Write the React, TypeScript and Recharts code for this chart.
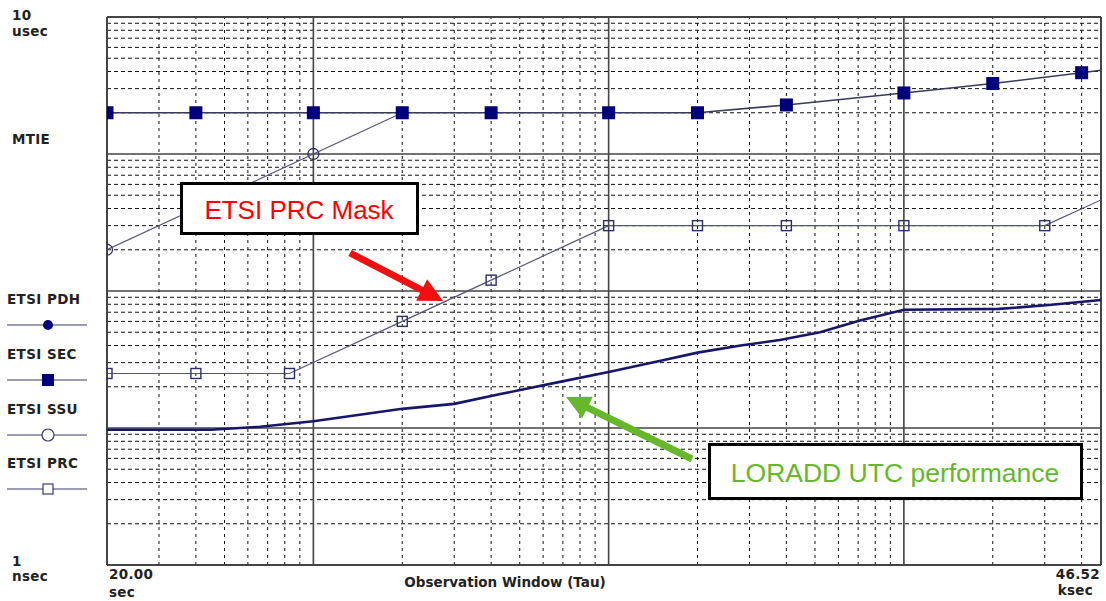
import { Line, LineChart, ReferenceLine, XAxis, YAxis } from 'recharts';

// observation window tau (s) and MTIE (ns)
const secTau = [20, 40, 100, 200, 400, 1000, 2000, 4000, 10000, 20000, 40000, 46520];
const secNs = [2000, 2000, 2000, 2000, 2000, 2000, 2000, 2280, 2790, 3270, 3920, 4090];

const ssuTau = [20, 100, 200];
const ssuNs = [200, 1000, 2000];

const prcTau = [20, 40, 83, 200, 400, 1000, 2000, 4000, 10000, 30000, 46520];
const prcNs = [25, 25, 25, 60, 120, 300, 300, 300, 300, 300, 462];

const loraddTau = [20, 45, 66, 100, 200, 300, 430, 690, 1000, 1500, 2000, 2800, 3800, 5200, 7100, 10000, 21000, 31000, 46520];
const loraddNs = [9.7, 9.7, 10.2, 11.2, 13.8, 15.0, 17.7, 21.8, 25.6, 31.0, 35.5, 40.0, 43.9, 50.0, 61.0, 73.0, 74.0, 79.0, 86.0];

const majorX = [100, 1000, 10000];
const minorX = [30, 40, 50, 60, 70, 80, 90, 200, 300, 400, 500, 600, 700, 800, 900, 2000, 3000, 4000, 5000, 6000, 7000, 8000, 9000, 20000, 30000, 40000];
const majorY = [10, 100, 1000];
const minorY = [2, 3, 4, 5, 6, 7, 8, 9, 20, 30, 40, 50, 60, 70, 80, 90, 200, 300, 400, 500, 600, 700, 800, 900, 2000, 3000, 4000, 5000, 6000, 7000, 8000, 9000];

const TAU_MAX = 46520;
const NAVY = '#00007a';
const FONT = '"DejaVu Sans", Verdana, sans-serif';
const ARIAL = '"Liberation Sans", Arial, sans-serif';

const zip = (t: number[], v: number[]) => t.map((tau, i) => ({ tau, v: v[i] }));
const secData = zip(secTau, secNs);
const ssuData = zip(ssuTau, ssuNs);
const prcData = zip(prcTau, prcNs);
const loraddData = zip(loraddTau, loraddNs);

type DotProps = { cx?: number; cy?: number; payload?: { tau: number }; index?: number };

// the edge point only carries the line to the frame, no marker there
function FilledSquare({ cx = 0, cy = 0, payload, index }: DotProps) {
  if (payload?.tau === TAU_MAX) return <g key={index} />;
  return <rect key={index} x={cx - 6.5} y={cy - 6.5} width={13} height={13} fill={NAVY} />;
}

function OpenSquare({ cx = 0, cy = 0, payload, index }: DotProps) {
  if (payload?.tau === TAU_MAX) return <g key={index} />;
  return <rect key={index} x={cx - 5} y={cy - 5} width={10} height={10} fill="none" stroke="#2e2e66" strokeWidth={1.4} />;
}

function OpenCircle({ cx = 0, cy = 0, index }: DotProps) {
  return <circle key={index} cx={cx} cy={cy} r={5.5} fill="none" stroke="#2e2e66" strokeWidth={1.3} />;
}

function Arrow({ x1, y1, x2, y2, color }: { x1: number; y1: number; x2: number; y2: number; color: string }) {
  const dx = x2 - x1;
  const dy = y2 - y1;
  const len = Math.hypot(dx, dy);
  const ux = dx / len;
  const uy = dy / len;
  const nx = -uy;
  const ny = ux;
  const head = 24;
  const hw = 12;
  const sw = 3.5;
  const bx = x2 - ux * head;
  const by = y2 - uy * head;
  const pts = [
    [x1 + nx * sw, y1 + ny * sw],
    [bx + nx * sw, by + ny * sw],
    [bx + nx * hw, by + ny * hw],
    [x2, y2],
    [bx - nx * hw, by - ny * hw],
    [bx - nx * sw, by - ny * sw],
    [x1 - nx * sw, y1 - ny * sw],
  ];
  return <polygon points={pts.map((p) => p.join(',')).join(' ')} fill={color} />;
}

function LegendRow({ y, label, marker }: { y: number; label: string; marker: 'dot' | 'fsq' | 'circle' | 'osq' }) {
  const ly = y + 21;
  return (
    <g>
      <text x={7} y={y} fontSize={13.5} fontWeight={700} letterSpacing={0.4} fill="#222">{label}</text>
      <line x1={7} y1={ly} x2={87} y2={ly} stroke="#3a3a6a" strokeWidth={1.2} />
      {marker === 'dot' && <circle cx={48} cy={ly} r={5} fill={NAVY} />}
      {marker === 'fsq' && <rect x={42} y={ly - 6} width={12} height={12} fill={NAVY} />}
      {marker === 'circle' && <circle cx={48} cy={ly} r={6} fill="#fff" stroke="#3a3a6a" strokeWidth={1.2} />}
      {marker === 'osq' && <rect x={43} y={ly - 5} width={10} height={10} fill="#fff" stroke="#3a3a6a" strokeWidth={1.2} />}
    </g>
  );
}

export default function App() {
  return (
    <div style={{ position: 'absolute', left: 0, top: 0, width: 1106, height: 601, background: '#fff', fontFamily: FONT }}>
      <LineChart width={1106} height={601} margin={{ top: 17, right: 5, bottom: 36, left: 107 }}>
        <XAxis type="number" dataKey="tau" scale="log" domain={[20, TAU_MAX]} allowDataOverflow hide />
        <YAxis type="number" dataKey="v" scale="log" domain={[1, 10000]} allowDataOverflow hide />
        {minorY.map((v) => (
          <ReferenceLine key={`my${v}`} y={v} stroke="#111" strokeDasharray="4 3" />
        ))}
        {minorX.map((v) => (
          <ReferenceLine key={`mx${v}`} x={v} stroke="#111" strokeDasharray="3 4" />
        ))}
        {majorY.map((v) => (
          <ReferenceLine key={`My${v}`} y={v} stroke="#444" strokeWidth={1.6} />
        ))}
        {majorX.map((v) => (
          <ReferenceLine key={`Mx${v}`} x={v} stroke="#444" strokeWidth={1.6} />
        ))}
        <ReferenceLine y={1} stroke="#444" strokeWidth={2} />
        <ReferenceLine y={10000} stroke="#444" strokeWidth={2} />
        <ReferenceLine x={20} stroke="#444" strokeWidth={2} />
        <ReferenceLine x={TAU_MAX} stroke="#444" strokeWidth={2} />
        <Line data={ssuData} dataKey="v" type="linear" stroke="#55557a" strokeWidth={1.2} dot={<OpenCircle />} isAnimationActive={false} />
        <Line data={prcData} dataKey="v" type="linear" stroke="#55557a" strokeWidth={1.2} dot={<OpenSquare />} isAnimationActive={false} />
        <Line data={secData} dataKey="v" type="linear" stroke="#3a3a5a" strokeWidth={1.6} dot={<FilledSquare />} isAnimationActive={false} />
        <Line data={loraddData} dataKey="v" type="linear" stroke="#16166a" strokeWidth={2.6} dot={false} isAnimationActive={false} />
      </LineChart>

      <svg width={1106} height={601} style={{ position: 'absolute', left: 0, top: 0, pointerEvents: 'none' }} fontFamily={FONT}>
        <g fontSize={13.5} fontWeight={700} fill="#222" letterSpacing={0.3}>
          <text x={12} y={20}>10</text>
          <text x={12} y={36}>usec</text>
          <text x={12} y={144}>MTIE</text>
          <text x={12} y={566}>1</text>
          <text x={12} y={581}>nsec</text>
          <text x={109} y={579}>20.00</text>
          <text x={109} y={597}>sec</text>
          <text x={1100} y={579} textAnchor="end">46.52</text>
          <text x={1093} y={595} textAnchor="end">ksec</text>
          <text x={505} y={587} textAnchor="middle" letterSpacing={0}>Observation Window (Tau)</text>
        </g>
        <LegendRow y={304} label="ETSI PDH" marker="dot" />
        <LegendRow y={359} label="ETSI SEC" marker="fsq" />
        <LegendRow y={414} label="ETSI SSU" marker="circle" />
        <LegendRow y={468} label="ETSI PRC" marker="osq" />

        <rect x={181.5} y={183.5} width={236} height={50} fill="#fff" stroke="#000" strokeWidth={3} />
        <text x={299} y={219} textAnchor="middle" fontFamily={ARIAL} fontSize={26} fill="#ff0000">ETSI PRC Mask</text>
        <Arrow x1={350} y1={253} x2={443} y2={301} color="#f01010" />

        <rect x={709.5} y={444.5} width={372} height={54} fill="#fff" stroke="#000" strokeWidth={3} />
        <text x={895} y={482} textAnchor="middle" fontFamily={ARIAL} fontSize={26.5} fill="#66b82a">LORADD UTC performance</text>
        <Arrow x1={692} y1={459} x2={566} y2={397} color="#66b82a" />
      </svg>
    </div>
  );
}
